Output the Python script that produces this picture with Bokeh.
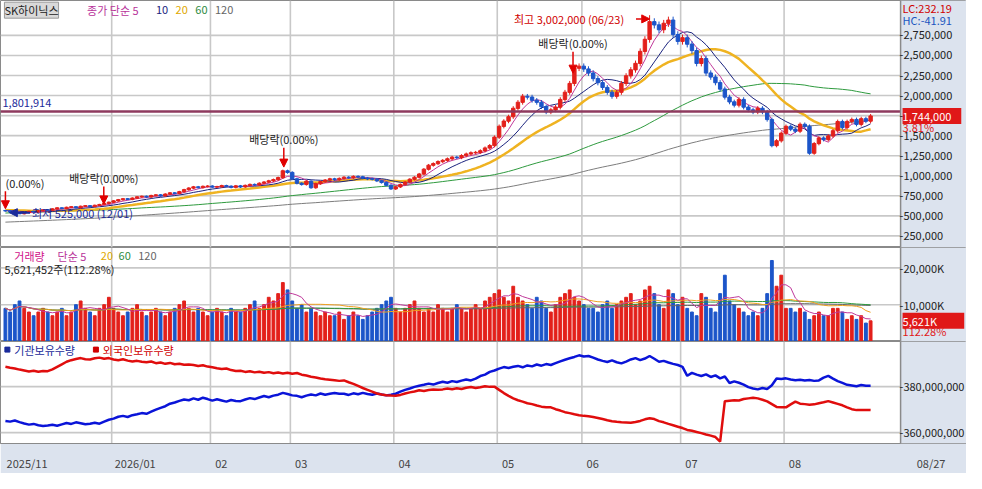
import numpy as np, pandas as pd
from bokeh.plotting import figure
from bokeh.layouts import gridplot
from bokeh.models import (FixedTicker, Label, Span, Arrow, NormalHead, Range1d, BoxAnnotation)
from bokeh.embed import file_html
from bokeh.resources import INLINE

# ---------------- data (prices in thousand won) ----------------
hist_close = [250,255,248,260,265,262,270,268,275,280,
 278,285,290,284,280,276,270,265,268,272,
 270,266,262,258,260,255,258,262,265,270,
 268,272,275,280,285,290,295,300,310,318,
 325,330,335,328,340,345,350,355,348,360,
 365,372,380,390,398,405,412,420,430,440,
 380,392,405,418,430,445,440,432,448,460,
 472,485,498,510,520,505,495,500,515,530,
 545,535,520,505,515,530,540,528,515,505,
 565,580,590,600,585,570,575,590,610,620,
 600,590,575,560,570,585,595,590,580,575,
 565,570,580,575,565,555,560,568,572,565]
close = [560,548,535,525,540,555,548,562,575,570,
 585,598,590,605,612,600,618,625,615,630,
 640,655,668,685,700,712,705,720,735,742,
 735,752,760,748,770,785,778,800,825,845,
 860,852,866,870,858,862,875,868,855,872,
 860,878,890,885,905,920,935,950,975,1060,
 1040,960,905,890,930,850,900,925,945,960,
 950,965,980,975,990,985,970,960,955,935,
 915,880,835,860,890,920,955,980,1020,1080,
 1130,1150,1175,1190,1210,1230,1225,1250,1270,1285,
 1290,1310,1345,1375,1480,1615,1680,1735,1840,1915,
 1990,1980,1940,1915,1860,1795,1820,1855,1950,2040,
 2150,2340,2365,2330,2280,2210,2160,2100,2040,1990,
 2040,2150,2245,2320,2400,2550,2700,2920,2880,2820,
 2900,2940,2760,2675,2720,2640,2560,2400,2460,2280,
 2230,2160,2080,1980,1920,1880,1950,1855,1820,1795,
 1840,1795,1700,1375,1435,1530,1615,1580,1555,1640,
 1615,1280,1400,1470,1450,1495,1560,1675,1600,1675,
 1700,1640,1710,1680,1744]
volume_m = [9,8,10,11,9,8,7,8,9,8, 7,8,9,7,8,10,11,9,8,7,
 9,10,12,9,8,7,8,9,10,8, 7,8,9,8,7,8,9,10,11,9,
 8,9,8,7,8,9,8,7,9,8, 8,9,10,11,9,10,12,11,13,16,
 14,11,9,10,8,9,8,7,8,7, 7,8,6,7,8,7,6,7,8,9,
 10,11,12,9,8,9,10,11,9,8, 9,8,10,9,8,9,10,9,8,9,
 10,9,11,12,13,14,12,11,15,12, 11,10,9,12,11,9,8,10,12,13,
 14,12,11,10,9,9,8,10,11,9, 10,11,12,13,10,11,14,15,13,10,
 9,14,13,10,12,9,8,7,13,12, 9,8,13,18,11,10,9,8,7,8,
 7,9,13,22,15,18,9,9,8,9, 8,6,7,8,7,7,9,9,8,6,
 7,6,7,5,5.621]
inst_m = [365.1,364.8,365.3,364.6,364.0,363.5,363.8,363.2,362.9,363.1,
 363.4,363.0,363.6,364.2,363.8,364.5,364.1,363.7,363.9,364.3,
 363.9,364.8,365.6,366.1,366.9,367.3,366.8,367.6,368.0,368.5,
 368.2,369.1,370.0,370.8,371.5,372.6,373.1,373.8,374.4,374.1,
 374.9,374.3,375.2,374.6,373.9,374.5,374.0,373.5,374.2,373.8,
 373.7,374.4,375.0,374.6,375.3,375.9,375.4,376.1,376.5,377.3,
 376.8,376.2,376.0,375.4,376.1,376.6,376.2,377.0,376.5,376.9,
 377.2,376.9,376.9,376.4,377.1,376.7,377.3,376.8,376.5,377.0,
 376.6,376.2,376.5,376.9,377.8,378.6,379.2,379.9,380.4,380.8,
 381.3,380.9,381.6,382.1,381.7,382.4,382.0,382.6,383.1,382.7,
 383.5,384.6,385.2,386.4,387.0,387.8,388.5,388.1,388.6,389.0,
 388.4,389.2,388.8,389.6,389.1,389.8,389.4,390.2,391.0,391.7,
 392.3,392.9,393.6,393.1,393.3,392.6,391.8,391.2,390.7,391.4,
 390.6,390.1,390.9,391.8,392.4,391.5,392.2,393.3,392.1,390.8,
 391.2,390.5,389.9,389.4,388.6,384.7,386.0,385.2,384.6,385.3,
 384.2,384.9,383.6,384.4,381.6,382.3,381.7,380.9,379.8,379.2,
 378.8,379.4,379.0,380.6,383.5,383.3,383.6,383.1,382.8,383.0,
 382.7,382.9,382.5,382.7,383.9,384.7,383.5,382.4,381.6,380.8,
 380.5,380.2,380.7,380.4,380.4]
foreign_m = [388.6,388.2,387.9,387.4,387.0,386.6,386.9,386.5,386.8,386.7,
 387.5,388.6,389.7,390.8,391.5,392.0,392.4,391.9,391.8,392.3,
 392.6,392.1,392.4,391.8,391.5,391.9,391.3,390.9,391.2,390.8,
 390.6,390.9,390.2,390.5,389.9,390.3,389.7,389.9,389.5,389.6,
 389.4,389.0,389.3,388.7,388.4,388.0,387.7,387.9,387.2,386.8,
 386.9,386.4,386.7,386.2,386.5,386.0,386.3,385.8,386.1,385.7,
 386.0,385.6,385.9,385.2,384.8,384.3,384.0,383.5,383.2,383.0,
 382.8,382.5,382.7,381.9,381.2,380.3,379.4,378.6,377.8,377.0,
 376.6,376.3,376.1,376.0,376.4,377.0,377.5,377.9,378.4,378.1,
 378.5,378.8,378.6,378.8,379.2,378.9,379.3,379.0,379.5,379.8,
 379.4,379.7,380.2,379.9,380.0,378.6,377.2,376.0,374.9,374.1,
 373.5,372.8,372.4,371.8,371.3,371.0,371.0,370.2,369.6,368.9,
 368.5,368.0,367.6,367.3,367.1,366.8,366.4,365.9,365.4,365.0,
 364.7,364.5,364.4,364.3,364.6,365.1,365.8,366.3,365.9,365.0,
 364.5,363.8,363.2,362.6,362.0,361.2,360.8,360.3,359.8,359.2,
 358.7,358.1,356.1,373.7,373.9,374.1,374.0,374.6,374.9,375.2,
 374.9,374.3,373.6,372.4,371.2,371.0,371.0,372.3,373.5,372.6,
 372.4,372.1,372.3,372.8,373.2,373.7,373.1,372.5,371.9,371.0,
 370.2,369.8,369.8,369.9,369.8]
month_idx = [0, 23, 44, 61, 83, 105, 123, 144, 166]
month_labels = ["2025/11", "2026/01", "02", "03", "04", "05", "06", "07", "08"]
price_ticks = [250000*k for k in range(1, 12)]
price_tick_labels = ["{:,}".format(t) for t in price_ticks]
vol_ticks = [10e6, 20e6]
vol_tick_labels = ["10,000K", "20,000K"]
hold_ticks = [360e6, 380e6]
hold_tick_labels = ["360,000,000", "380,000,000"]
high_price, high_idx = 3002, 137
low_price, low_idx = 525, 3
ref_line = 1801914

# ---------------- derived ----------------
N = len(close)
idx = np.arange(N)
allc = pd.Series(hist_close + close, dtype=float) * 1000
c = np.array(close, float) * 1000
o = np.concatenate([[hist_close[-1] * 1000], c[:-1]])
hi = np.maximum(o, c) * 1.015
lo = np.minimum(o, c) * 0.985
hi[high_idx] = high_price * 1000
lo[low_idx] = low_price * 1000
up = c >= o
RED, BLUE = "#e3201b", "#1c55c9"
col = np.where(up, RED, BLUE)
ma = {n: allc.rolling(n).mean().values[len(hist_close):] for n in (5, 10, 20, 60, 120)}
vol = np.array(volume_m) * 1e6
vs = pd.Series(vol)
vma = {n: vs.rolling(n, min_periods=1).mean().values for n in (5, 20, 60, 120)}

FONT = "Noto Sans CJK KR"
BG = "#dce3ee"
GRID = "#c8c8c8"
W = 966

def bx(px):  # ref pixel x -> bar index (positioning only)
    return (px - 5) / 4.78

XR = (bx(0), bx(982))
AX = bx(915)  # left edge of the axis strip

def style(p, yr, ticks, labels):
    p.border_fill_color = BG
    p.background_fill_color = "white"
    p.outline_line_color = "#8a8a8a"
    p.min_border_left = 0
    p.min_border_right = 0
    p.min_border_top = 0
    p.min_border_bottom = 0
    p.yaxis.visible = False
    p.ygrid.grid_line_color = None
    p.xgrid.grid_line_color = None
    gx = [m - 0.4 for m in month_idx[1:]]
    p.multi_line(xs=[[g, g] for g in gx], ys=[list(yr) for g in gx],
                 line_color=GRID, line_width=1.6)
    p.multi_line(xs=[[XR[0], AX] for t in ticks], ys=[[t, t] for t in ticks],
                 line_color=GRID, line_width=1.6)
    p.add_layout(BoxAnnotation(left=AX, fill_color=BG, fill_alpha=1, line_color=None,
                               level="overlay"))
    p.add_layout(Span(location=AX, dimension="height", line_color="#8a8a8a", line_width=1.5,
                      level="overlay"))
    for t, l in zip(ticks, labels):
        p.add_layout(Label(x=AX, y=t, text="-" + l, text_color="#222", text_font=FONT,
                           text_font_size="11px", text_baseline="middle", x_offset=-1,
                           level="overlay"))

def lab(p, x, y, t, color, size="11px", **kw):
    p.add_layout(Label(x=x, y=y, text=t, text_color=color, text_font=FONT,
                       text_font_size=size, text_baseline="middle", level="overlay", **kw))

# ---------------- price panel ----------------
def pv(py):  # ref pixel y -> price (positioning only)
    return (250 + (243 - py) * 12.08) * 1000

yr1 = (pv(255), pv(0))
p1 = figure(width=W, height=247, x_range=Range1d(*XR), y_range=Range1d(*yr1),
            output_backend="svg", toolbar_location=None)
style(p1, yr1, price_ticks, price_tick_labels)
p1.xaxis.visible = False
p1.add_layout(Span(location=ref_line, dimension="width", line_color="#8e3a5e", line_width=2.5))
p1.line(idx, ma[120], color="#7d7d7d", line_width=1)
p1.line(idx, ma[60], color="#2e9a3e", line_width=1)
p1.line(idx, ma[20], color="#efb321", line_width=2.5)
p1.line(idx, ma[10], color="#1a237e", line_width=1)
p1.line(idx, ma[5], color="#c0399b", line_width=1)
p1.segment(idx, lo, idx, hi, color=col, line_width=1)
p1.vbar(x=idx, bottom=np.minimum(o, c), top=np.maximum(o, c) + 2000, width=0.72,
        fill_color=col, line_color=col)

lab(p1, bx(2), pv(106), "1,801,914", "#1a2a9a")
lab(p1, bx(4), pv(10), "SK하이닉스", "#222", background_fill_color="#d9d9d9",
    border_line_color="#999")
xs = 88
for t, cc, w in [("종가 단순 5", "#b8329a", 70), ("10", "#1a237e", 20), ("20", "#e0a800", 20),
                 ("60", "#2e8b3e", 20), ("120", "#666", 24)]:
    lab(p1, bx(xs), pv(10), t, cc)
    xs += w
head = lambda: NormalHead(size=8, fill_color="#e00000", line_color="#e00000")
for ti, tp, ax, a0, a1, t in [(0, 188, 5, 197, 215, "(0.00%)"),
                              (21, 183, 105, 192, 210, "배당락(0.00%)"),
                              (59, 143, 288, 152, 172, "배당락(0.00%)"),
                              (121, 44, 582, 53, 75, "배당락(0.00%)")]:
    lab(p1, bx(ax), pv(tp), t, "#222", text_align="center" if ti else "left")
    p1.add_layout(Arrow(end=head(), x_start=bx(ax), y_start=pv(a0), x_end=bx(ax), y_end=pv(a1),
                        line_color="#e00000", line_width=1.5))
lab(p1, bx(522), pv(19), "최고 3,002,000 (06/23)", "#d00000")
p1.add_layout(Arrow(end=head(), x_start=bx(646), y_start=pv(19), x_end=bx(660), y_end=pv(19),
                    line_color="#e00000", line_width=1.5))
lab(p1, bx(32), pv(219), "최저 525,000 (12/01)", "#1a2a9a")
p1.add_layout(Arrow(end=NormalHead(size=8, fill_color="#1a2a9a", line_color="#1a2a9a"),
                    x_start=bx(30), y_start=pv(219), x_end=bx(9), y_end=pv(219),
                    line_color="#1a2a9a", line_width=2))
lab(p1, bx(917), pv(8), "LC:232.19", "#d00000")
lab(p1, bx(917), pv(20), "HC:-41.91", "#1a55c0")
lab(p1, bx(917), c[-1], " 1,744,000   ", "white", background_fill_color="#e01818")
lab(p1, bx(917), pv(131), " 3.81%", "#e01818")

# ---------------- volume panel ----------------
vv = lambda py: (352 - py) / 3.8 * 1e6
yr2 = (0, vv(255))
p2 = figure(width=W, height=94, x_range=p1.x_range, y_range=Range1d(*yr2),
            output_backend="svg", toolbar_location=None)
style(p2, yr2, vol_ticks, vol_tick_labels)
p2.xaxis.visible = False
p2.vbar(x=idx, top=vol, width=0.6, fill_color=col, line_color=col)
p2.line(idx, vma[120], color="#666", line_width=1)
p2.line(idx, vma[60], color="#2e9a3e", line_width=1)
p2.line(idx, vma[20], color="#efa020", line_width=1)
p2.line(idx, vma[5], color="#c0399b", line_width=1)
xs = 14
for t, cc, w in [("거래량", "#d0108a", 44), ("단순 5", "#b8329a", 44), ("20", "#e0a800", 18),
                 ("60", "#2e8b3e", 20), ("120", "#666", 24)]:
    lab(p2, bx(xs), vv(264), t, cc)
    xs += w
lab(p2, bx(4), vv(277), "5,621,452주(112.28%)", "#222")
lab(p2, bx(917), vol[-1], " 5,621K          ", "white", background_fill_color="#e01818")
lab(p2, bx(917), vv(341), " 112.28%", "#e01818")

# ---------------- holdings panel ----------------
hv = lambda py: (380 + (402 - py) / 51 * 20) * 1e6
yr3 = (hv(465), hv(352))
p3 = figure(width=W, height=132, x_range=p1.x_range, y_range=Range1d(*yr3),
            output_backend="svg", toolbar_location=None)
style(p3, yr3, hold_ticks, hold_tick_labels)
p3.line(idx, np.array(inst_m) * 1e6, color="#0a14d8", line_width=2.5)
p3.line(idx, np.array(foreign_m) * 1e6, color="#e00d0d", line_width=2.5)
lab(p3, bx(14), hv(361), "기관보유수량", "#1a2a9a")
lab(p3, bx(104), hv(361), "외국인보유수량", "#d00000")
p3.scatter([bx(7), bx(97)], [hv(361)] * 2, marker="square", size=5,
           color=["#1a2a9a", "#d00000"])
offs = [4.6, 4.6, 1.9, 1.9, 1.9, 1.9, 1.9, 1.9, 1.9]
ticks = [m + d for m, d in zip(month_idx, offs)] + [bx(946)]
p3.xaxis.ticker = FixedTicker(ticks=ticks)
p3.xaxis.major_label_overrides = {t: l for t, l in zip(ticks, month_labels + ["08/27"])}
p3.xaxis.major_tick_line_color = None
p3.xaxis.minor_tick_line_color = None
p3.xaxis.axis_line_color = "#8a8a8a"
p3.xaxis.major_label_text_font = FONT
p3.xaxis.major_label_text_font_size = "11px"
p3.xaxis.major_label_standoff = 5

grid = gridplot([[p1], [p2], [p3]], toolbar_location=None)
open("out.html", "w").write(file_html(grid, INLINE))
